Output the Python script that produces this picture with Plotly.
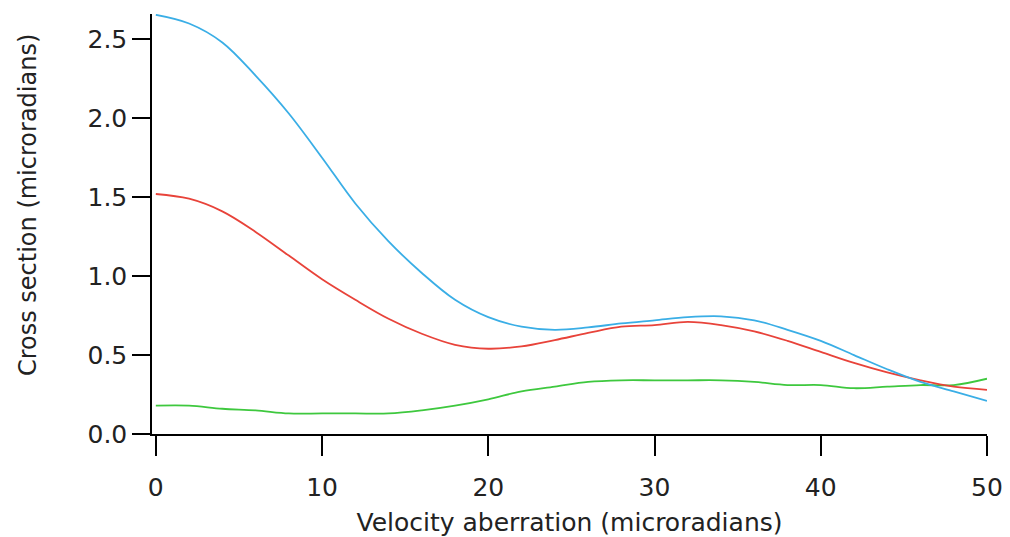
import plotly.graph_objects as go

x = [0, 2, 4, 6, 8, 10, 12, 14, 16, 18, 20, 22, 24, 26, 28, 30, 32, 34, 36, 38, 40, 42, 44, 46, 48, 50]
blue = [2.655, 2.60, 2.48, 2.27, 2.03, 1.75, 1.46, 1.22, 1.02, 0.85, 0.74, 0.68, 0.66, 0.675, 0.70, 0.72,
        0.74, 0.745, 0.72, 0.66, 0.59, 0.50, 0.41, 0.33, 0.27, 0.21]
red = [1.52, 1.49, 1.41, 1.28, 1.13, 0.98, 0.85, 0.73, 0.635, 0.565, 0.54, 0.555, 0.595, 0.64, 0.68, 0.69,
       0.71, 0.69, 0.65, 0.59, 0.52, 0.45, 0.39, 0.34, 0.30, 0.28]
green = [0.18, 0.18, 0.16, 0.15, 0.13, 0.13, 0.13, 0.13, 0.15, 0.18, 0.22, 0.27, 0.30, 0.33, 0.34, 0.34,
         0.34, 0.34, 0.33, 0.31, 0.31, 0.29, 0.30, 0.31, 0.31, 0.35]

xticks = [0, 10, 20, 30, 40, 50]
yticks = [0.0, 0.5, 1.0, 1.5, 2.0, 2.5]
ytick_text = ["0.0", "0.5", "1.0", "1.5", "2.0", "2.5"]

fig = go.Figure()
for ys, col in [(green, "#3ec83e"), (red, "#e8433a"), (blue, "#3aaee6")]:
    fig.add_trace(go.Scatter(x=x, y=ys, mode="lines",
                             line=dict(color=col, width=1.8, shape="spline", smoothing=1.0),
                             showlegend=False))

tickfont = dict(family="DejaVu Sans", size=25, color="#222222")
titlefont = dict(family="DejaVu Sans", size=25, color="#222222")
# page body has an 8px margin, so the figure is shifted by 8px
fig.update_layout(
    width=1002, height=529,
    margin=dict(l=144, r=23, t=6, b=103),
    paper_bgcolor="white", plot_bgcolor="white",
    xaxis=dict(range=[-0.23, 50], tickvals=xticks, ticks="outside", ticklen=20, tickwidth=1.5,
               tickcolor="black", showline=True, linecolor="black", linewidth=1.5,
               showgrid=False, zeroline=False, automargin=False, tickfont=tickfont,
               ticklabelstandoff=10,
               title=dict(text="Velocity aberration (microradians)", font=titlefont, standoff=14)),
    yaxis=dict(range=[0, 2.66], tickvals=yticks, ticktext=ytick_text, ticks="outside", ticklen=18,
               tickwidth=1.5, tickcolor="black", showline=True, linecolor="black", linewidth=1.5,
               showgrid=False, zeroline=False, automargin=False, tickfont=tickfont),
    annotations=[dict(text="Cross section (microradians)", textangle=-90, showarrow=False,
                      xref="paper", yref="paper", x=-0.1485, y=0.545,
                      xanchor="center", yanchor="middle",
                      font=dict(family="DejaVu Sans", size=24, color="#222222"))],
)

fig.write_html("out.html")
